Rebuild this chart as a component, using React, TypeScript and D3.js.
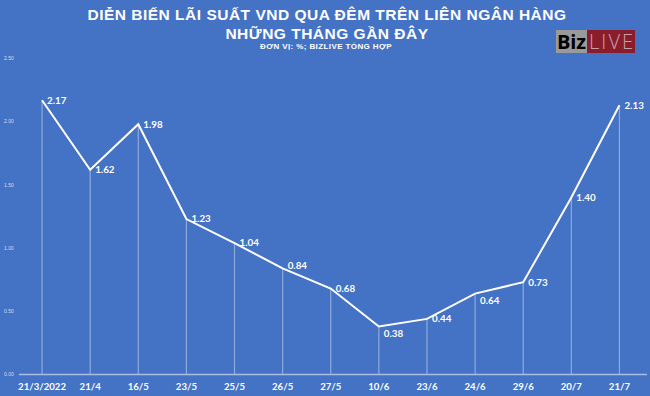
import { useEffect, useRef } from 'react';
import * as d3 from 'd3';

const dates = ['21/3/2022', '21/4', '16/5', '23/5', '25/5', '26/5', '27/5', '10/6', '23/6', '24/6', '29/6', '20/7', '21/7'];
const rates = [2.17, 1.62, 1.98, 1.23, 1.04, 0.84, 0.68, 0.38, 0.44, 0.64, 0.73, 1.4, 2.13];
const yTicks = [0, 0.5, 1, 1.5, 2, 2.5];

// small vertical nudges for a few data labels, like in the source image
const labelNudge: Record<string, number> = { '26/5': -3, '10/6': 7, '24/6': 7 };

const W = 650;
const H = 396;

function App() {
  const svgRef = useRef<SVGSVGElement>(null);

  useEffect(() => {
    const svg = d3.select(svgRef.current);
    svg.selectAll('*').remove();

    const x = d3.scaleBand().domain(dates).range([18, 643.5]);
    const y = d3.scaleLinear().domain([0, 2.5]).range([374.5, 58.5]);
    const cx = (d: string) => x(d)! + x.bandwidth() / 2;

    svg.append('rect').attr('width', W).attr('height', H).attr('fill', '#4472c4');

    // title
    const title = svg.append('g').attr('fill', '#fff').attr('text-anchor', 'middle')
      .style('font-family', '"Liberation Sans", Arial, sans-serif').style('font-weight', 700);
    title.append('text').attr('x', 327).attr('y', 20).style('font-size', '15.5px')
      .style('letter-spacing', '0.5px')
      .text('DIỄN BIẾN LÃI SUẤT VND QUA ĐÊM TRÊN LIÊN NGÂN HÀNG');
    title.append('text').attr('x', 327).attr('y', 39).style('font-size', '15.5px')
      .style('letter-spacing', '0.5px')
      .text('NHỮNG THÁNG GẦN ĐÂY');
    title.append('text').attr('x', 326).attr('y', 48.5).style('font-size', '8px')
      .style('letter-spacing', '0.4px')
      .text('ĐƠN VỊ: %; BIZLIVE TỔNG HỢP');

    // logo
    const logo = svg.append('g');
    logo.append('rect').attr('x', 556).attr('y', 30).attr('width', 31).attr('height', 23).attr('fill', '#9a9a9a');
    logo.append('rect').attr('x', 587).attr('y', 30).attr('width', 48).attr('height', 23).attr('fill', '#8a1d2c');
    logo.append('text').attr('x', 557).attr('y', 49).attr('fill', '#000')
      .style('font-family', '"Open Sans", sans-serif').style('font-weight', 700).style('font-size', '20px')
      .attr('textLength', 29).text('Biz');
    logo.append('text').attr('x', 589).attr('y', 49).attr('fill', '#c9a0a8')
      .style('font-family', '"Open Sans", sans-serif').style('font-weight', 300).style('font-size', '20px')
      .attr('textLength', 44).text('LIVE');

    // y axis labels
    svg.append('g').selectAll('text').data(yTicks).join('text')
      .attr('x', 4).attr('y', (d) => y(d)).attr('dy', '0.35em')
      .attr('fill', '#d6def0')
      .style('font-family', '"Liberation Sans", Arial, sans-serif').style('font-size', '5px')
      .text((d) => d3.format('.2f')(d));

    // drop lines
    svg.append('g').selectAll('line').data(dates).join('line')
      .attr('x1', (d) => cx(d)).attr('x2', (d) => cx(d))
      .attr('y1', (d, i) => y(rates[i])).attr('y2', y(0))
      .attr('stroke', 'rgba(255,255,255,0.4)').attr('stroke-width', 1.2);

    // baseline
    svg.append('line').attr('x1', 19).attr('x2', 647).attr('y1', y(0)).attr('y2', y(0))
      .attr('stroke', '#a9bde6').attr('stroke-width', 1.5);

    // x labels
    svg.append('g').selectAll('text').data(dates).join('text')
      .attr('x', (d) => cx(d)).attr('y', 390).attr('text-anchor', 'middle')
      .attr('fill', '#fff')
      .style('font-family', 'Lato, sans-serif').style('font-weight', 700).style('font-size', '9.6px')
      .text((d) => d);

    // line
    const line = d3.line<number>().x((d, i) => cx(dates[i])).y((d) => y(d));
    svg.append('path').datum(rates).attr('d', line).attr('fill', 'none')
      .attr('stroke', '#fff').attr('stroke-width', 2).attr('stroke-linejoin', 'miter');

    // data labels
    svg.append('g').selectAll('text').data(rates).join('text')
      .attr('x', (d, i) => cx(dates[i]) + 5)
      .attr('y', (d, i) => y(d) + (labelNudge[dates[i]] || 0))
      .attr('dy', '0.35em')
      .attr('fill', '#fff')
      .style('font-family', 'Lato, sans-serif').style('font-weight', 700).style('font-size', '9.8px')
      .text((d) => d3.format('.2f')(d));
  }, []);

  return (
    <svg ref={svgRef} width={W} height={H}
      style={{ position: 'absolute', left: 0, top: 0, display: 'block' }} />
  );
}

export default App;
